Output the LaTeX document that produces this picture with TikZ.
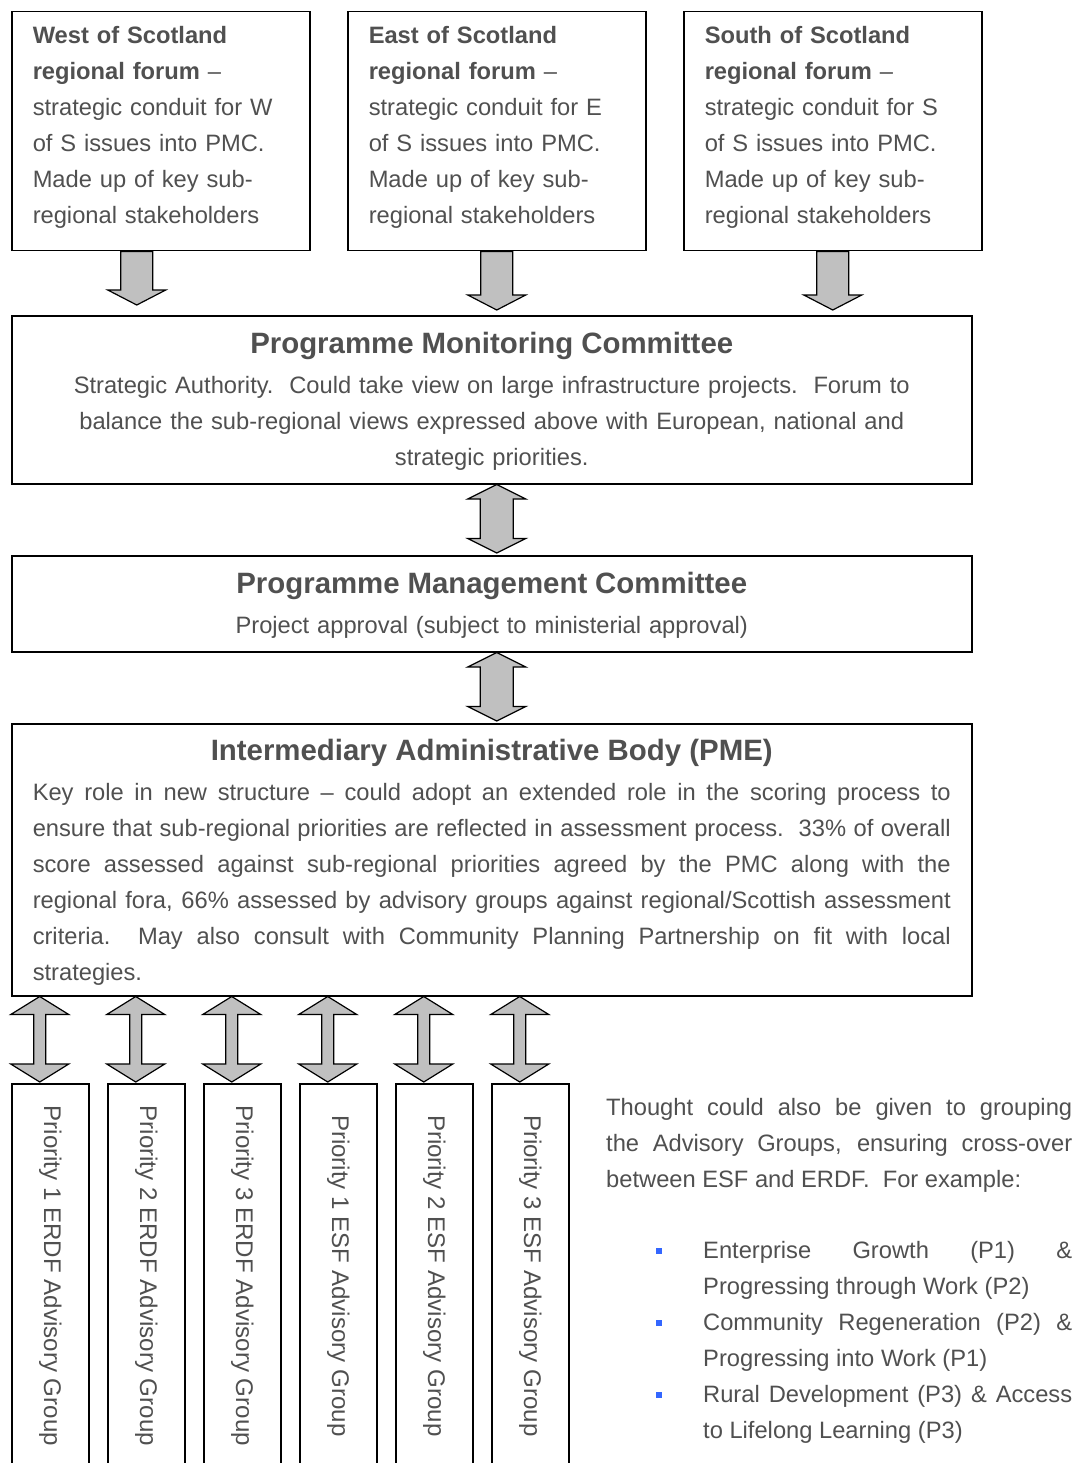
\documentclass[tikz,border=0pt]{standalone}
\usepackage{fontspec}
\setmainfont{Liberation Sans}
\usepackage{graphicx}
\usepackage{tikz}
\usetikzlibrary{calc}
\usetikzlibrary{positioning}

\definecolor{textgray}{RGB}{80,80,80}
\definecolor{arrowgray}{RGB}{192,192,192}
\definecolor{bulletblue}{RGB}{51,102,255}
\newcommand{\bodyfont}{\fontsize{23.7}{36}\selectfont}
\newcommand{\headfont}{\fontsize{29.4}{36}\selectfont\bfseries}
\newcommand{\sidefont}{\fontsize{24.1}{36}\selectfont}
\newcommand{\bluebullet}{\leavevmode\llap{\textcolor{bulletblue}{\rule[4pt]{6pt}{6pt}}\hspace{41pt}}}

% block arrow pointing down: top point, tip point, half shaft width
\newcommand{\blockdown}[3]{%
  \draw[blockarrow] let \p1 = #1, \p2 = #2 in
    ({\x1-#3},\y1) -- ({\x1-#3},{\y2+15pt}) -- ({\x1-29pt},{\y2+15pt}) -- (\x1,\y2)
    -- ({\x1+29pt},{\y2+15pt}) -- ({\x1+#3},{\y2+15pt}) -- ({\x1+#3},\y1) -- cycle;}
% block arrow with two heads: top tip, bottom tip, half shaft width, head length
\newcommand{\blockboth}[4]{%
  \draw[blockarrow] let \p1 = #1, \p2 = #2 in
    (\x1,\y1) -- ({\x1+29pt},{\y1-#4}) -- ({\x1+#3},{\y1-#4}) -- ({\x1+#3},{\y2+#4})
    -- ({\x1+29pt},{\y2+#4}) -- (\x1,\y2) -- ({\x1-29pt},{\y2+#4}) -- ({\x1-#3},{\y2+#4})
    -- ({\x1-#3},{\y1-#4}) -- ({\x1-29pt},{\y1-#4}) -- cycle;}

\tikzset{
  x = 1pt, y = -1pt,
  box/.style = {draw, line width = 1.5pt, anchor = north west, inner ysep = 0pt,
    inner xsep = 21pt, text = textgray, font = \bodyfont},
  forum/.style = {box, text width = 256pt, minimum height = 239pt, align = left},
  wide/.style = {box, text width = 918pt, minimum height = #1},
  advisory/.style = {box, inner xsep = 0pt, minimum width = 77pt, minimum height = 384pt,
    font = \sidefont},
  blockarrow/.style = {draw, line width = 1.2pt, fill = arrowgray, line join = miter}
}

\begin{document}
\begin{tikzpicture}
  \useasboundingbox[fill = white] (0,0) rectangle (1078,1463);
  % regional forums
  \node [forum] (west) at (11,11) {\textbf{West of Scotland}\\ \textbf{regional forum} --\\ strategic conduit for W\\ of S issues into PMC.\\ Made up of key sub-\\ regional stakeholders\par\vspace*{7pt}};
  \node [forum] (east) at (347,11) {\textbf{East of Scotland}\\ \textbf{regional forum} --\\ strategic conduit for E\\ of S issues into PMC.\\ Made up of key sub-\\ regional stakeholders\par\vspace*{7pt}};
  \node [forum] (south) at (683,11) {\textbf{South of Scotland}\\ \textbf{regional forum} --\\ strategic conduit for S\\ of S issues into PMC.\\ Made up of key sub-\\ regional stakeholders\par\vspace*{7pt}};
  % committees
  \node [wide = 168pt, align = center] (pmc) at (11,315) {{\headfont Programme Monitoring Committee}\\[4pt]
    Strategic Authority.\ \ Could take view on large infrastructure projects.\ \ Forum to\\
    balance the sub-regional views expressed above with European, national and\\
    strategic priorities.\par\vspace*{-3pt}};
  \node [wide = 96pt, align = center] (mgmt) at (11,555) {{\headfont Programme Management Committee}\\[4pt]
    Project approval (subject to ministerial approval)\par\vspace*{-3pt}};
  \node [wide = 272pt, align = justify] (iab) at (11,723) {\makebox[\linewidth]{\headfont Intermediary Administrative Body (PME)}\\[4pt]
    Key role in new structure -- could adopt an extended role in the scoring process to\linebreak
    ensure that sub-regional priorities are reflected in assessment process.\ \ 33\% of overall\linebreak
    score assessed against sub-regional priorities agreed by the PMC along with the\linebreak
    regional fora, 66\% assessed by advisory groups against regional/Scottish assessment\linebreak
    criteria.\ \ May also consult with Community Planning Partnership on fit with local\linebreak
    strategies.\par\vspace*{-6pt}};
  % advisory groups
  \foreach \i/\lab in {1/Priority 1 ERDF, 2/Priority 2 ERDF, 3/Priority 3 ERDF,
                       4/Priority 1 ESF, 5/Priority 2 ESF, 6/Priority 3 ESF}
    \node [advisory] (p\i) at ({11+96*(\i-1)},1083) {\rotatebox{-90}{\lab{} Advisory Group}};
  % note
  \node [anchor = north west, inner sep = 0pt, text width = 466pt, align = justify,
    text = textgray, font = \bodyfont] (note) at (606,1098) {Thought could also be given to grouping\linebreak
    the Advisory Groups, ensuring cross-over\linebreak
    between ESF and ERDF.\ \ For example:\par\vspace{35pt}
    \leftskip = 97pt
    \bluebullet Enterprise Growth (P1) \&\linebreak Progressing through Work (P2)\par
    \bluebullet Community Regeneration (P2) \&\linebreak Progressing into Work (P1)\par
    \bluebullet Rural Development (P3) \& Access\linebreak to Lifelong Learning (P3)\par};
  % arrows
  \blockdown{($(west.south)+(-24,0)$)}{($(pmc.north -| west.south)+(-24,-10)$)}{16pt}
  \blockdown{(east.south)}{($(pmc.north -| east.south)+(0,-5)$)}{16pt}
  \blockdown{(south.south)}{($(pmc.north -| south.south)+(0,-5)$)}{16pt}
  \blockboth{(pmc.south -| east.south)}{($(mgmt.north -| east.south)+(0,-2)$)}{16.5pt}{14.5pt}
  \blockboth{(mgmt.south -| east.south)}{($(iab.north -| east.south)+(0,-2)$)}{16.5pt}{14.5pt}
  \foreach \i in {1,...,6}
    \blockboth{($(iab.south -| p\i.north)+(-10.5,0)$)}{($(p\i.north)+(-10.5,-1)$)}{6pt}{18pt};
\end{tikzpicture}
\end{document}
